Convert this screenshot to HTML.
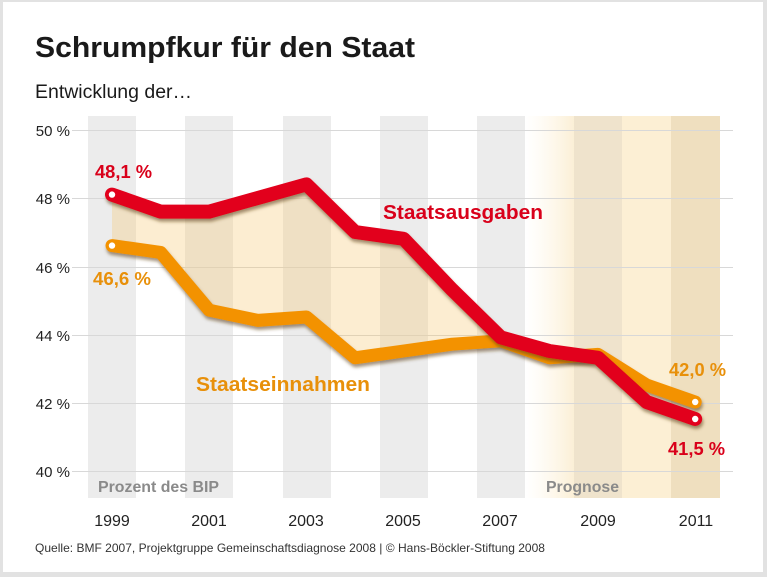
<!DOCTYPE html>
<html><head><meta charset="utf-8"><style>
html,body{margin:0;padding:0;background:#e2e2e2}
svg{display:block}
text{font-family:"Liberation Sans",sans-serif}
</style></head><body>
<svg width="767" height="577" viewBox="0 0 767 577" xmlns="http://www.w3.org/2000/svg">
<defs>
<linearGradient id="pg" x1="0" x2="1" y1="0" y2="0">
<stop offset="0" stop-color="#fff7e6" stop-opacity="0"/>
<stop offset="1" stop-color="#fbefd6"/>
</linearGradient>
<filter id="sh" x="-5%" y="-5%" width="110%" height="120%"><feDropShadow dx="1" dy="3" stdDeviation="1.5" flood-color="#5a3a10" flood-opacity="0.55"/></filter>
</defs>
<rect x="0" y="0" width="767" height="577" fill="#e2e2e2"/>
<rect x="3" y="2" width="760" height="570" fill="#fff"/>
<text x="35" y="57" font-size="29" font-weight="bold" fill="#1a1a1a" textLength="380" lengthAdjust="spacingAndGlyphs">Schrumpfkur für den Staat</text>
<text x="35" y="98" font-size="19" fill="#1a1a1a" textLength="157" lengthAdjust="spacingAndGlyphs">Entwicklung der…</text>
<g fill="#ececec">
<rect x="88" y="116" width="48" height="382"/>
<rect x="185" y="116" width="48" height="382"/>
<rect x="283" y="116" width="48" height="382"/>
<rect x="380" y="116" width="48" height="382"/>
<rect x="477" y="116" width="48" height="382"/>
</g>
<rect x="525" y="116" width="49" height="382" fill="url(#pg)"/>
<rect x="574" y="116" width="48" height="382" fill="#efe3cc"/>
<rect x="622" y="116" width="49" height="382" fill="#fcefd4"/>
<rect x="671" y="116" width="49" height="382" fill="#efdfbf"/>
<g stroke="#d8d8d8" stroke-width="1">
<line x1="72" x2="733" y1="130.5" y2="130.5"/>
<line x1="72" x2="733" y1="198.5" y2="198.5"/>
<line x1="72" x2="733" y1="267.5" y2="267.5"/>
<line x1="72" x2="733" y1="335.5" y2="335.5"/>
<line x1="72" x2="733" y1="403.5" y2="403.5"/>
<line x1="72" x2="733" y1="471.5" y2="471.5"/>
</g>
<g font-size="15" fill="#222" text-anchor="end">
<text x="70" y="136">50 %</text>
<text x="70" y="204">48 %</text>
<text x="70" y="273">46 %</text>
<text x="70" y="341">44 %</text>
<text x="70" y="409">42 %</text>
<text x="70" y="477">40 %</text>
</g>
<polygon fill="#f5c870" fill-opacity="0.32" points="112,194.6 160.6,211.6 209.2,211.6 257.8,198 306.4,184.4 355,232 403.6,238.8 452.2,289.8 500.8,337.4 500.8,340.8 452.2,344.2 403.6,351 355,357.8 306.4,317 257.8,320.4 209.2,310.2 160.6,252.4 112,245.6"/>
<polyline filter="url(#sh)" fill="none" stroke="#f39200" stroke-width="13" stroke-linejoin="round" stroke-linecap="round" points="112,245.6 160.6,252.4 209.2,310.2 257.8,320.4 306.4,317 355,357.8 403.6,351 452.2,344.2 500.8,340.8 549.4,357.8 598,354.4 646.6,385 695.2,402"/>
<polyline filter="url(#sh)" fill="none" stroke="#e2001a" stroke-width="14" stroke-linejoin="round" stroke-linecap="round" points="112,194.6 160.6,211.6 209.2,211.6 257.8,198 306.4,184.4 355,232 403.6,238.8 452.2,289.8 500.8,337.4 549.4,351 598,357.8 646.6,402 695.2,419"/>
<g fill="#fff">
<circle cx="112" cy="194.6" r="3.2"/><circle cx="112" cy="245.6" r="3.2"/>
<circle cx="695.2" cy="402" r="3.2"/><circle cx="695.2" cy="419" r="3.2"/>
</g>
<g font-size="18" font-weight="bold">
<text x="95" y="178" fill="#d9001a" textLength="57" lengthAdjust="spacingAndGlyphs">48,1 %</text>
<text x="93" y="285" fill="#e8900a" textLength="58" lengthAdjust="spacingAndGlyphs">46,6 %</text>
<text x="669" y="376" fill="#e8900a" textLength="57" lengthAdjust="spacingAndGlyphs">42,0 %</text>
<text x="668" y="455" fill="#d9001a" textLength="57" lengthAdjust="spacingAndGlyphs">41,5 %</text>
</g>
<text x="383" y="219" font-size="20.5" font-weight="bold" fill="#d9001a" textLength="160" lengthAdjust="spacingAndGlyphs">Staatsausgaben</text>
<text x="196" y="391" font-size="20.5" font-weight="bold" fill="#e8900a" textLength="174" lengthAdjust="spacingAndGlyphs">Staatseinnahmen</text>
<text x="98" y="492" font-size="15.5" font-weight="bold" fill="#8a8a8a" textLength="121" lengthAdjust="spacingAndGlyphs">Prozent des BIP</text>
<text x="546" y="492" font-size="15.5" font-weight="bold" fill="#8a8a8a" textLength="73" lengthAdjust="spacingAndGlyphs">Prognose</text>
<g font-size="16" fill="#222" text-anchor="middle">
<text x="112" y="526">1999</text>
<text x="209" y="526">2001</text>
<text x="306" y="526">2003</text>
<text x="403" y="526">2005</text>
<text x="500" y="526">2007</text>
<text x="598" y="526">2009</text>
<text x="696" y="526">2011</text>
</g>
<text x="35" y="552" font-size="12" fill="#333" textLength="510" lengthAdjust="spacingAndGlyphs">Quelle: BMF 2007, Projektgruppe Gemeinschaftsdiagnose 2008 | © Hans-Böckler-Stiftung 2008</text>
</svg>
</body></html>
